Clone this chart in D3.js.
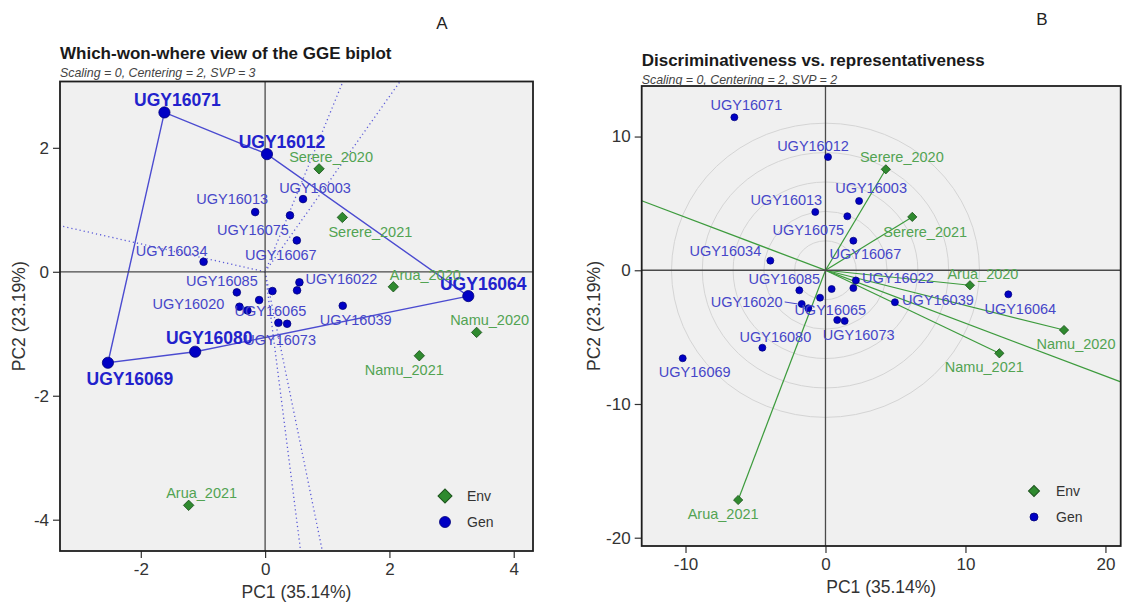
<!DOCTYPE html>
<html>
<head>
<meta charset="utf-8">
<script src="https://cdn.jsdelivr.net/npm/d3@7"></script>
<style>
  body { margin: 0; background: #fff; }
  svg { display: block; font-family: "Liberation Sans", Arial, sans-serif; }
</style>
</head>
<body>
<svg id="chart" width="1122" height="606"></svg>
<script>
// genotypes, same order in both biplots ('' = point drawn without a label)
const genNames = ['UGY16071', 'UGY16012', 'UGY16003', 'UGY16013', 'UGY16075', 'UGY16067', 'UGY16034',
  'UGY16085', '', '', 'UGY16022', '', 'UGY16020', 'UGY16065', '', 'UGY16073', 'UGY16039',
  'UGY16064', 'UGY16080', 'UGY16069'];
const envNames = ['Serere_2020', 'Serere_2021', 'Arua_2020', 'Namu_2020', 'Namu_2021', 'Arua_2021'];

// A: which-won-where (SVP = 3)
const genA_pc1 = [-1.62, 0.03, 0.61, -0.16, 0.40, 0.51, -0.99, -0.455, -0.096, 0.118, 0.552, 0.514,
  -0.413, -0.285, 0.214, 0.354, 1.249, 3.269, -1.125, -2.529];
const genA_pc2 = [2.571, 1.898, 1.173, 0.963, 0.910, 0.506, 0.161, -0.332, -0.456, -0.311, -0.171, -0.300,
  -0.564, -0.623, -0.823, -0.839, -0.548, -0.392, -1.290, -1.468];
const envA_pc1 = [0.868, 1.243, 2.063, 3.403, 2.481, -1.230];
const envA_pc2 = [1.661, 0.877, -0.242, -0.978, -1.355, -3.768];

// B: discriminativeness vs representativeness (SVP = 2)
const genB_pc1 = [-6.51, 0.18, 2.40, -0.73, 1.56, 1.99, -3.94, -1.87, -0.39, 0.44, 2.17, 1.99,
  -1.70, -1.23, 0.84, 1.37, 4.96, 13.06, -4.51, -10.20];
const genB_pc2 = [11.44, 8.47, 5.18, 4.36, 4.04, 2.21, 0.72, -1.50, -2.05, -1.40, -0.76, -1.33,
  -2.52, -2.84, -3.72, -3.79, -2.39, -1.80, -5.79, -6.58];
const envB_pc1 = [4.31, 6.20, 10.32, 17.04, 12.42, -6.24];
const envB_pc2 = [7.55, 3.99, -1.12, -4.47, -6.21, -17.18];
const circleRadiiB = [2.2, 4.4, 6.6, 8.8, 11.0];

const ticksA_x = [-2, 0, 2, 4];
const ticksA_y = [-4, -2, 0, 2];
const ticksB_x = [-10, 0, 10, 20];
const ticksB_y = [-20, -10, 0, 10];

// label nudges in px (where the labels sit in the picture)
const nudgeA = {
  UGY16071: [13, -12], UGY16012: [15, -12], UGY16003: [12, -11], UGY16013: [-23, -13],
  UGY16075: [-37, 15], UGY16067: [-16, 15], UGY16034: [-32, -11], UGY16085: [-15, -11],
  UGY16020: [-51, -3], UGY16065: [23, 1], UGY16073: [-7, 16], UGY16022: [42, -3],
  UGY16039: [13, 14], UGY16064: [15, -12], UGY16080: [14, -14], UGY16069: [22, 16],
  Serere_2020: [12, -12], Serere_2021: [28, 15], Arua_2020: [32, -12], Namu_2020: [13, -12],
  Namu_2021: [-15, 14], Arua_2021: [13, -12],
};
const nudgeB = {
  UGY16071: [12, -12], UGY16012: [-15, -11], UGY16003: [12, -13], UGY16013: [-29, -12],
  UGY16075: [-39, 14], UGY16067: [12, 13], UGY16034: [-45, -10], UGY16085: [-15, -11],
  UGY16020: [-55, -2], UGY16065: [22, 2], UGY16073: [14, 14], UGY16080: [13, -11],
  UGY16069: [12, 14], UGY16022: [42, -2], UGY16039: [43, -2], UGY16064: [12, 15],
  Serere_2020: [16, -12], Serere_2021: [13, 15], Arua_2020: [13, -11], Namu_2020: [12, 14],
  Namu_2021: [-15, 14], Arua_2021: [-15, 14],
};

const GEN_FILL = '#0000c4';
const GEN_STROKE = '#00007a';
const GEN_TEXT = '#4646c8';
const ENV_FILL = '#2f8a2f';
const ENV_STROKE = '#1b531b';
const ENV_TEXT = '#52a352';
const ENV_LINE = '#3d9b3d';

const svg = d3.select('#chart');

function diamond(halfDiag) {
  const s = halfDiag * Math.SQRT2;
  return d3.symbol().type(d3.symbolSquare).size(s * s)();
}

function drawPanel(p) {
  const x = d3.scaleLinear().domain(p.xDomain).range(p.xRange);
  const y = d3.scaleLinear().domain(p.yDomain).range(p.yRange);
  const g = svg.append('g');
  const left = p.xRange[0];
  const right = p.xRange[1];
  const top = p.yRange[1];
  const bottom = p.yRange[0];

  g.append('rect')
    .attr('x', left)
    .attr('y', top)
    .attr('width', right - left)
    .attr('height', bottom - top)
    .attr('fill', '#f0f0f0');

  g.append('clipPath')
    .attr('id', 'clip-' + p.id)
    .append('rect')
    .attr('x', left)
    .attr('y', top)
    .attr('width', right - left)
    .attr('height', bottom - top);

  const plot = g.append('g').attr('clip-path', `url(#clip-${p.id})`);
  const under = plot.append('g');

  plot.append('line')
    .attr('x1', left).attr('x2', right)
    .attr('y1', y(0)).attr('y2', y(0))
    .attr('stroke', '#4a4a4a').attr('stroke-width', 1.3);
  plot.append('line')
    .attr('x1', x(0)).attr('x2', x(0))
    .attr('y1', top).attr('y2', bottom)
    .attr('stroke', '#4a4a4a').attr('stroke-width', 1.3);

  // plain hyphen for negatives, as in the picture
  const fmt = (d) => String(d);
  const xAxis = g.append('g')
    .attr('transform', `translate(0,${bottom})`)
    .call(d3.axisBottom(x).tickValues(p.xTicks).tickSize(7).tickPadding(5).tickFormat(fmt));
  const yAxis = g.append('g')
    .attr('transform', `translate(${left},0)`)
    .call(d3.axisLeft(y).tickValues(p.yTicks).tickSize(7).tickPadding(4).tickFormat(fmt));
  [xAxis, yAxis].forEach((a) => {
    a.select('.domain').remove();
    a.selectAll('line').attr('stroke', '#333').attr('stroke-width', 1.2);
    a.selectAll('text')
      .attr('fill', '#333')
      .style('font-size', '17px')
      .style('font-family', '"Liberation Sans", Arial, sans-serif');
  });

  g.append('rect')
    .attr('x', left)
    .attr('y', top)
    .attr('width', right - left)
    .attr('height', bottom - top)
    .attr('fill', 'none')
    .attr('stroke', '#1e1e1e')
    .attr('stroke-width', 1.8);

  g.append('text')
    .attr('x', left)
    .attr('y', p.titleY)
    .attr('font-size', 17)
    .attr('font-weight', 'bold')
    .attr('fill', '#1a1a1a')
    .text(p.title);
  g.append('text')
    .attr('x', left)
    .attr('y', p.titleY + 18)
    .attr('font-size', 12.4)
    .attr('font-style', 'italic')
    .attr('fill', '#444')
    .text(p.subtitle);

  g.append('text')
    .attr('x', (left + right) / 2)
    .attr('y', bottom + 47)
    .attr('text-anchor', 'middle')
    .attr('font-size', 17.5)
    .attr('fill', '#333')
    .text('PC1 (35.14%)');
  g.append('text')
    .attr('transform', `translate(${p.yLabelX},${(top + bottom) / 2}) rotate(-90)`)
    .attr('text-anchor', 'middle')
    .attr('dominant-baseline', 'central')
    .attr('font-size', 17.5)
    .attr('fill', '#333')
    .text('PC2 (23.19%)');

  g.append('text')
    .attr('x', p.letterX)
    .attr('y', p.letterY)
    .attr('text-anchor', 'middle')
    .attr('font-size', 17)
    .attr('fill', '#222')
    .text(p.letter);

  // legend
  const lg = g.append('g');
  lg.append('path')
    .attr('d', diamond(p.legendDiamond))
    .attr('transform', `translate(${p.legendX},${p.legendY}) rotate(45)`)
    .attr('fill', ENV_FILL).attr('stroke', ENV_STROKE).attr('stroke-width', 1);
  lg.append('circle')
    .attr('cx', p.legendX).attr('cy', p.legendY + 26)
    .attr('r', p.legendCircle)
    .attr('fill', GEN_FILL).attr('stroke', GEN_STROKE).attr('stroke-width', 0.8);
  lg.append('text')
    .attr('x', p.legendX + 22).attr('y', p.legendY)
    .attr('dominant-baseline', 'central')
    .attr('font-size', 14).attr('fill', '#333')
    .text('Env');
  lg.append('text')
    .attr('x', p.legendX + 22).attr('y', p.legendY + 26)
    .attr('dominant-baseline', 'central')
    .attr('font-size', 14).attr('fill', '#333')
    .text('Gen');

  return { x, y, plot, under, left, right, top, bottom };
}

// ray from the origin in direction (dx, dy), cut at the panel limits
function rayToEdge(dx, dy, xd, yd) {
  const ts = [];
  if (dx > 0) ts.push(xd[1] / dx);
  if (dx < 0) ts.push(xd[0] / dx);
  if (dy > 0) ts.push(yd[1] / dy);
  if (dy < 0) ts.push(yd[0] / dy);
  const t = Math.min(...ts);
  return [dx * t, dy * t];
}

// ---------- Panel A ----------
const panelA = {
  id: 'a',
  xDomain: [-3.30, 4.31],
  yDomain: [-4.505, 3.07],
  xRange: [60, 533],
  yRange: [551, 81.5],
  xTicks: ticksA_x,
  yTicks: ticksA_y,
  title: 'Which-won-where view of the GGE biplot',
  subtitle: 'Scaling = 0, Centering = 2, SVP = 3',
  titleY: 59,
  yLabelX: 19,
  letter: 'A',
  letterX: 442,
  letterY: 29,
  legendX: 445,
  legendY: 496,
  legendDiamond: 7,
  legendCircle: 5.5,
};
const A = drawPanel(panelA);

const genA = genNames.map((name, i) => ({ name, pc1: genA_pc1[i], pc2: genA_pc2[i] }));
const envA = envNames.map((name, i) => ({ name, pc1: envA_pc1[i], pc2: envA_pc2[i] }));

const hull = d3.polygonHull(genA.map((d) => [d.pc1, d.pc2]));
const hullSet = new Set(hull.map((h) => h.join(',')));
genA.forEach((d) => { d.winner = hullSet.has([d.pc1, d.pc2].join(',')); });

// sector lines: perpendicular from the origin to every side of the polygon
hull.forEach((p1, i) => {
  const p2 = hull[(i + 1) % hull.length];
  const ex = p2[0] - p1[0];
  const ey = p2[1] - p1[1];
  const t = -(p1[0] * ex + p1[1] * ey) / (ex * ex + ey * ey);
  const fx = p1[0] + t * ex;
  const fy = p1[1] + t * ey;
  const end = rayToEdge(fx, fy, panelA.xDomain, panelA.yDomain);
  A.under.append('line')
    .attr('x1', A.x(0)).attr('y1', A.y(0))
    .attr('x2', A.x(end[0])).attr('y2', A.y(end[1]))
    .attr('stroke', '#5a5ad8')
    .attr('stroke-width', 1.3)
    .attr('stroke-dasharray', '1.2,3');
});

A.under.append('path')
  .datum(hull)
  .attr('d', d3.line().x((d) => A.x(d[0])).y((d) => A.y(d[1])).curve(d3.curveLinearClosed))
  .attr('fill', 'none')
  .attr('stroke', '#4b4bd0')
  .attr('stroke-width', 1.4);

A.plot.selectAll('path.env')
  .data(envA)
  .enter()
  .append('path')
  .attr('class', 'env')
  .attr('d', diamond(5.2))
  .attr('transform', (d) => `translate(${A.x(d.pc1)},${A.y(d.pc2)}) rotate(45)`)
  .attr('fill', ENV_FILL)
  .attr('stroke', ENV_STROKE)
  .attr('stroke-width', 0.8);

A.plot.selectAll('circle.gen')
  .data(genA)
  .enter()
  .append('circle')
  .attr('class', 'gen')
  .attr('cx', (d) => A.x(d.pc1))
  .attr('cy', (d) => A.y(d.pc2))
  .attr('r', (d) => (d.winner ? 5.6 : 3.8))
  .attr('fill', GEN_FILL)
  .attr('stroke', GEN_STROKE)
  .attr('stroke-width', 0.8);

A.plot.selectAll('text.genlab')
  .data(genA.filter((d) => d.name))
  .enter()
  .append('text')
  .attr('class', 'genlab')
  .attr('x', (d) => A.x(d.pc1) + nudgeA[d.name][0])
  .attr('y', (d) => A.y(d.pc2) + nudgeA[d.name][1])
  .attr('text-anchor', 'middle')
  .attr('dominant-baseline', 'central')
  .attr('font-size', (d) => (d.winner ? 17.5 : 14.5))
  .attr('font-weight', (d) => (d.winner ? 'bold' : 'normal'))
  .attr('fill', (d) => (d.winner ? '#2222cc' : GEN_TEXT))
  .text((d) => d.name);

A.plot.selectAll('text.envlab')
  .data(envA)
  .enter()
  .append('text')
  .attr('class', 'envlab')
  .attr('x', (d) => A.x(d.pc1) + nudgeA[d.name][0])
  .attr('y', (d) => A.y(d.pc2) + nudgeA[d.name][1])
  .attr('text-anchor', 'middle')
  .attr('dominant-baseline', 'central')
  .attr('font-size', 14.5)
  .attr('fill', ENV_TEXT)
  .text((d) => d.name);

// ---------- Panel B ----------
const panelB = {
  id: 'b',
  xDomain: [-13.13, 21.09],
  yDomain: [-20.62, 13.78],
  xRange: [641.7, 1120.7],
  yRange: [546, 86],
  xTicks: ticksB_x,
  yTicks: ticksB_y,
  title: 'Discriminativeness vs. representativeness',
  subtitle: 'Scaling = 0, Centering = 2, SVP = 2',
  titleY: 66,
  yLabelX: 594,
  letter: 'B',
  letterX: 1042,
  letterY: 25,
  legendX: 1034,
  legendY: 491,
  legendDiamond: 5.5,
  legendCircle: 4,
};
const B = drawPanel(panelB);

const genB = genNames.map((name, i) => ({ name, pc1: genB_pc1[i], pc2: genB_pc2[i] }));
const envB = envNames.map((name, i) => ({ name, pc1: envB_pc1[i], pc2: envB_pc2[i] }));

B.under.selectAll('ellipse.ring')
  .data(circleRadiiB)
  .enter()
  .append('ellipse')
  .attr('class', 'ring')
  .attr('cx', B.x(0))
  .attr('cy', B.y(0))
  .attr('rx', (r) => B.x(r) - B.x(0))
  .attr('ry', (r) => B.y(0) - B.y(r))
  .attr('fill', 'none')
  .attr('stroke', '#d4d4d4')
  .attr('stroke-width', 1);

// average-environment axis through the mean environment
const meanX = d3.mean(envB, (d) => d.pc1);
const meanY = d3.mean(envB, (d) => d.pc2);
const aeaEnd1 = rayToEdge(meanX, meanY, panelB.xDomain, panelB.yDomain);
const aeaEnd2 = rayToEdge(-meanX, -meanY, panelB.xDomain, panelB.yDomain);
B.under.append('line')
  .attr('x1', B.x(aeaEnd2[0])).attr('y1', B.y(aeaEnd2[1]))
  .attr('x2', B.x(aeaEnd1[0])).attr('y2', B.y(aeaEnd1[1]))
  .attr('stroke', ENV_LINE)
  .attr('stroke-width', 1.3);

B.under.selectAll('line.vec')
  .data(envB)
  .enter()
  .append('line')
  .attr('class', 'vec')
  .attr('x1', B.x(0)).attr('y1', B.y(0))
  .attr('x2', (d) => B.x(d.pc1)).attr('y2', (d) => B.y(d.pc2))
  .attr('stroke', ENV_LINE)
  .attr('stroke-width', 1.2);

B.plot.selectAll('circle.gen')
  .data(genB)
  .enter()
  .append('circle')
  .attr('class', 'gen')
  .attr('cx', (d) => B.x(d.pc1))
  .attr('cy', (d) => B.y(d.pc2))
  .attr('r', 3.5)
  .attr('fill', GEN_FILL)
  .attr('stroke', GEN_STROKE)
  .attr('stroke-width', 0.7);

B.plot.selectAll('path.env')
  .data(envB)
  .enter()
  .append('path')
  .attr('class', 'env')
  .attr('d', diamond(4.6))
  .attr('transform', (d) => `translate(${B.x(d.pc1)},${B.y(d.pc2)}) rotate(45)`)
  .attr('fill', ENV_FILL)
  .attr('stroke', ENV_STROKE)
  .attr('stroke-width', 0.8);

// short leader for the label pushed away from its point
const g20 = genB.find((d) => d.name === 'UGY16020');
B.plot.append('line')
  .attr('x1', B.x(g20.pc1) + nudgeB.UGY16020[0] + 38)
  .attr('y1', B.y(g20.pc2) + nudgeB.UGY16020[1])
  .attr('x2', B.x(g20.pc1) - 4)
  .attr('y2', B.y(g20.pc2))
  .attr('stroke', '#4646c8')
  .attr('stroke-width', 1);

B.plot.selectAll('text.genlab')
  .data(genB.filter((d) => d.name))
  .enter()
  .append('text')
  .attr('class', 'genlab')
  .attr('x', (d) => B.x(d.pc1) + nudgeB[d.name][0])
  .attr('y', (d) => B.y(d.pc2) + nudgeB[d.name][1])
  .attr('text-anchor', 'middle')
  .attr('dominant-baseline', 'central')
  .attr('font-size', 14.5)
  .attr('fill', GEN_TEXT)
  .text((d) => d.name);

B.plot.selectAll('text.envlab')
  .data(envB)
  .enter()
  .append('text')
  .attr('class', 'envlab')
  .attr('x', (d) => B.x(d.pc1) + nudgeB[d.name][0])
  .attr('y', (d) => B.y(d.pc2) + nudgeB[d.name][1])
  .attr('text-anchor', 'middle')
  .attr('dominant-baseline', 'central')
  .attr('font-size', 14.5)
  .attr('fill', ENV_TEXT)
  .text((d) => d.name);
</script>
</body>
</html>
